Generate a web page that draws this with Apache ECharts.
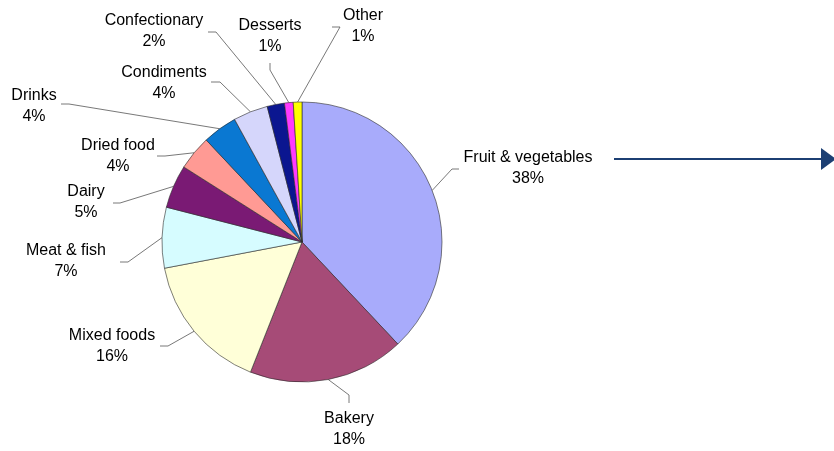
<!DOCTYPE html>
<html>
<head>
<meta charset="utf-8">
<script src="https://cdn.jsdelivr.net/npm/echarts@6/dist/echarts.min.js"></script>
<style>
  html, body { margin: 0; padding: 0; background: #ffffff; }
  #chart { width: 834px; height: 451px; }
</style>
</head>
<body>
<div id="chart"></div>
<script>
// Food waste by category (share, %)
const categories = ['Fruit & vegetables', 'Bakery', 'Mixed foods', 'Meat & fish', 'Dairy',
  'Dried food', 'Drinks', 'Condiments', 'Confectionary', 'Desserts', 'Other'];
const shares = [38, 18, 16, 7, 5, 4, 4, 4, 2, 1, 1];

const sliceColors = ['#A8ABFB', '#A64B77', '#FFFFD8', '#D6FCFF', '#7A1A74',
  '#FF9A94', '#0A78D2', '#D5D6FB', '#0B1690', '#FF3AFF', '#FFFF00'];

// Label block centres and leader-line elbows, per category (layout only)
const labelSpots = [
  { x: 528, y: 168, elbow: [452, 169], end: [459, 169] },
  { x: 349, y: 429, elbow: [349, 395], end: [349, 403] },
  { x: 112, y: 346, elbow: [168, 346], end: [160, 346] },
  { x: 66,  y: 261, elbow: [128, 262], end: [120, 262] },
  { x: 86,  y: 202, elbow: [120, 203], end: [113, 203] },
  { x: 118, y: 156, elbow: [165, 156], end: [157, 156] },
  { x: 34,  y: 106, elbow: [69, 104],  end: [61, 104] },
  { x: 164, y: 83,  elbow: [220, 82],  end: [211, 82] },
  { x: 154, y: 31,  elbow: [216, 32],  end: [208, 32] },
  { x: 270, y: 36,  elbow: [270, 70],  end: [270, 63] },
  { x: 363, y: 26,  elbow: [340, 27],  end: [332, 27] }
];

const chart = echarts.init(document.getElementById('chart'), null, { renderer: 'canvas' });

chart.setOption({
  backgroundColor: '#ffffff',
  animation: false,
  series: [{
    type: 'pie',
    center: [302, 242],
    radius: 140,
    startAngle: 90,
    clockwise: true,
    avoidLabelOverlap: false,
    data: categories.map((name, i) => ({
      name: name,
      value: shares[i],
      itemStyle: { color: sliceColors[i] }
    })),
    itemStyle: { borderColor: '#2a2a2a', borderWidth: 0.6 },
    label: {
      show: true,
      position: 'outside',
      formatter: p => p.name + '\n' + p.value + '%',
      fontFamily: 'Liberation Sans, Arial, sans-serif',
      fontSize: 16,
      lineHeight: 21,
      color: '#000000',
      align: 'center'
    },
    labelLine: {
      show: true,
      length: 20,
      length2: 10,
      lineStyle: { color: '#555555', width: 0.8 }
    },
    labelLayout: function (params) {
      const spot = labelSpots[params.dataIndex];
      const pts = params.labelLinePoints;
      const edge = pts && pts[0] ? pts[0] : spot.elbow;
      return {
        x: spot.x,
        y: spot.y,
        align: 'center',
        verticalAlign: 'middle',
        labelLinePoints: [edge, spot.elbow, spot.end]
      };
    },
    emphasis: { disabled: true }
  }],
  graphic: [
    {
      type: 'line',
      shape: { x1: 614, y1: 159, x2: 824, y2: 159 },
      style: { stroke: '#1C3F73', lineWidth: 2 }
    },
    {
      type: 'polygon',
      shape: { points: [[821, 148], [836, 159], [821, 170]] },
      style: { fill: '#1C3F73' }
    }
  ]
});
</script>
</body>
</html>
